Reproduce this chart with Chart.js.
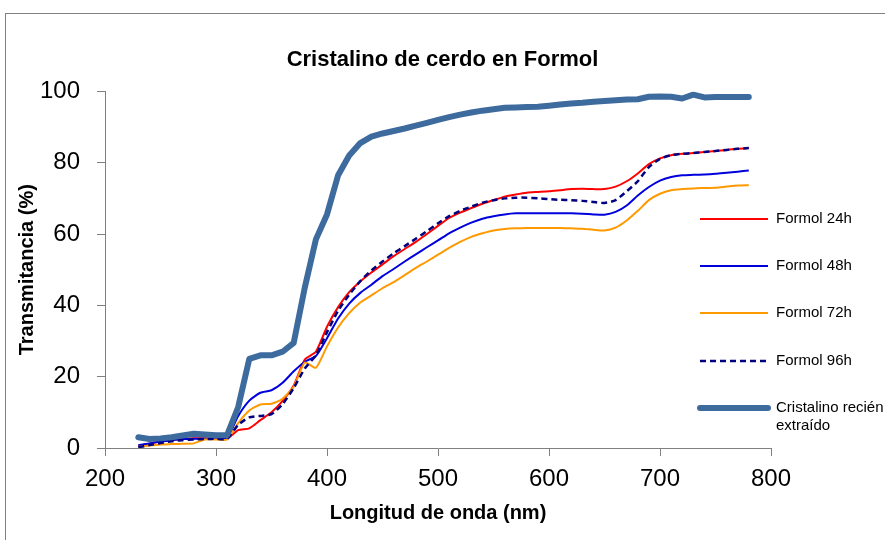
<!DOCTYPE html>
<html>
<head>
<meta charset="utf-8">
<script src="https://cdn.jsdelivr.net/npm/chart.js@4.4.1/dist/chart.umd.min.js"></script>
<style>
  html, body { margin: 0; padding: 0; background: #fff; }
  #wrap { position: relative; width: 885px; height: 540px; }
</style>
</head>
<body>
<div id="wrap"><canvas id="grafico"></canvas></div>
<script>
// longitudes de onda medidas (nm)
const longitudes = [230, 240, 250, 260, 270, 280, 290, 300, 310, 320, 330, 340, 350, 360, 370, 380, 390, 400,
  410, 420, 430, 440, 450, 460, 470, 480, 490, 500, 510, 520, 530, 540, 550, 560, 570, 580, 590, 600,
  610, 620, 630, 640, 650, 660, 670, 680, 690, 700, 710, 720, 730, 740, 750, 760, 770, 780];

const formol24 = [0.6, 1.2, 1.8, 2.2, 2.5, 2.7, 2.7, 2.6, 2.6, 5.0, 5.5, 7.8, 10.0, 13.2, 17.5, 24.8, 27.0, 34.0,
  39.5, 43.7, 46.7, 49.2, 51.5, 53.8, 55.8, 57.8, 60.0, 62.3, 64.5, 66.0, 67.3, 68.5, 69.5, 70.5, 71.1, 71.6, 71.8, 72.0,
  72.3, 72.6, 72.7, 72.6, 72.6, 73.3, 74.8, 77.0, 79.6, 81.2, 82.1, 82.5, 82.7, 83.0, 83.3, 83.6, 83.9, 84.1];

const formol48 = [0.8, 1.3, 1.8, 2.2, 2.5, 2.6, 2.6, 2.6, 2.8, 9.0, 13.3, 15.5, 16.2, 18.3, 21.5, 24.2, 25.8, 30.8,
  36.3, 40.5, 43.5, 45.8, 48.2, 50.2, 52.3, 54.3, 56.3, 58.2, 60.2, 61.8, 63.2, 64.3, 65.0, 65.5, 65.8, 65.8, 65.8, 65.8,
  65.8, 65.8, 65.7, 65.5, 65.4, 66.2, 68.0, 70.8, 73.2, 75.0, 76.0, 76.5, 76.6, 76.7, 76.9, 77.2, 77.5, 77.8];

const formol72 = [0.3, 0.7, 1.0, 1.1, 1.2, 1.3, 2.4, 2.4, 2.4, 7.0, 10.5, 12.2, 12.4, 13.8, 17.2, 24.0, 22.5, 28.5,
  33.8, 37.8, 40.8, 42.8, 44.8, 46.5, 48.5, 50.5, 52.3, 54.2, 56.1, 57.8, 59.2, 60.2, 61.0, 61.4, 61.6, 61.7, 61.7, 61.7,
  61.7, 61.6, 61.5, 61.2, 61.0, 61.8, 63.8, 66.5, 69.5, 71.3, 72.3, 72.6, 72.8, 72.9, 73.0, 73.3, 73.6, 73.7];

const formol96 = [0.2, 0.8, 1.4, 1.9, 2.2, 2.4, 2.5, 2.6, 2.6, 6.5, 8.6, 9.0, 9.5, 12.3, 16.8, 22.3, 26.0, 32.5,
  38.5, 43.0, 46.8, 49.8, 52.3, 54.6, 56.6, 58.7, 60.8, 63.0, 65.0, 66.5, 67.7, 68.8, 69.5, 70.0, 70.2, 70.2, 70.0, 69.8,
  69.6, 69.5, 69.3, 69.0, 68.7, 69.5, 72.0, 74.8, 78.8, 81.1, 82.1, 82.5, 82.7, 83.0, 83.3, 83.6, 83.9, 84.1];

const recienExtraido = [3.0, 2.5, 2.7, 3.0, 3.5, 4.0, 3.8, 3.6, 3.6, 11.5, 25.0, 26.0, 26.0, 27.0, 29.5, 45.0, 58.5, 65.5,
  76.5, 82.0, 85.5, 87.3, 88.2, 88.9, 89.6, 90.4, 91.2, 92.0, 92.8, 93.5, 94.1, 94.6, 95.0, 95.4, 95.5, 95.6, 95.7, 96.0,
  96.3, 96.6, 96.8, 97.1, 97.3, 97.5, 97.7, 97.8, 98.5, 98.6, 98.5, 98.0, 99.1, 98.3, 98.4, 98.4, 98.4, 98.4];

const ticksX = [200, 300, 400, 500, 600, 700, 800];
const ticksY = [0, 20, 40, 60, 80, 100];

Chart.defaults.font.family = "'Liberation Sans', Arial, sans-serif";
Chart.defaults.color = '#000';

function puntos(valores) {
  return longitudes.map((x, i) => ({ x: x, y: valores[i] }));
}

// leyenda a la derecha, dibujada sobre el área del gráfico
const leyenda = {
  id: 'leyenda',
  afterDraw(chart) {
    const ctx = chart.ctx;
    const filas = [
      { ds: 0, y: 219, texto: ['Formol 24h'] },
      { ds: 1, y: 266, texto: ['Formol 48h'] },
      { ds: 2, y: 313, texto: ['Formol 72h'] },
      { ds: 3, y: 361, texto: ['Formol 96h'] },
      { ds: 4, y: 408, texto: ['Cristalino recién', 'extraído'] }
    ];
    ctx.save();
    ctx.font = "15px 'Liberation Sans', Arial, sans-serif";
    ctx.textBaseline = 'middle';
    ctx.fillStyle = '#000';
    filas.forEach(f => {
      const d = chart.data.datasets[f.ds];
      ctx.beginPath();
      ctx.strokeStyle = d.borderColor;
      ctx.lineWidth = d.borderWidth;
      ctx.lineCap = d.borderWidth > 4 ? 'round' : 'butt';
      ctx.setLineDash(d.borderDash || []);
      ctx.moveTo(700, f.y);
      ctx.lineTo(768, f.y);
      ctx.stroke();
      ctx.setLineDash([]);
      f.texto.forEach((t, j) => ctx.fillText(t, 776, f.y + j * 18));
    });
    ctx.restore();
  }
};

// marco exterior
const marco = {
  id: 'marco',
  beforeDraw(chart) {
    const ctx = chart.ctx;
    ctx.save();
    ctx.strokeStyle = '#808080';
    ctx.lineWidth = 1;
    ctx.strokeRect(5.5, 13.5, 1000, 1000);
    ctx.restore();
  }
};

new Chart(document.getElementById('grafico'), {
  type: 'line',
  data: {
    datasets: [
      { label: 'Formol 24h', data: puntos(formol24), borderColor: '#ff0000', borderWidth: 2, tension: 0.2, order: 5 },
      { label: 'Formol 48h', data: puntos(formol48), borderColor: '#0000dd', borderWidth: 2, tension: 0.2, order: 4 },
      { label: 'Formol 72h', data: puntos(formol72), borderColor: '#ff9900', borderWidth: 2, tension: 0.2, order: 3 },
      { label: 'Formol 96h', data: puntos(formol96), borderColor: '#000080', borderWidth: 2.5, borderDash: [6, 4], tension: 0.2, order: 2 },
      { label: 'Cristalino recién extraído', data: puntos(recienExtraido), borderColor: '#3e6b9e', borderWidth: 6, tension: 0, order: 1, borderCapStyle: 'round', borderJoinStyle: 'round' }
    ]
  },
  options: {
    responsive: true,
    maintainAspectRatio: false,
    animation: false,
    elements: { point: { radius: 0 } },
    layout: { padding: 0 },
    plugins: {
      legend: { display: false },
      tooltip: { enabled: false },
      title: {
        display: true,
        text: 'Cristalino de cerdo en Formol',
        font: { size: 22, weight: 'bold' },
        padding: { top: 47, bottom: 18 },
        color: '#000'
      }
    },
    scales: {
      x: {
        type: 'linear',
        min: 200,
        max: 800,
        afterFit(scale) { scale.height = 92; },
        afterBuildTicks(scale) { scale.ticks = ticksX.map(v => ({ value: v })); },
        ticks: { font: { size: 24 }, padding: 9, maxRotation: 0 },
        grid: { drawOnChartArea: false, drawTicks: true, tickLength: 8, color: '#808080' },
        border: { display: true, color: '#808080' },
        title: {
          display: true,
          text: 'Longitud de onda (nm)',
          font: { size: 20, weight: 'bold' },
          padding: { top: 0, bottom: 15 }
        }
      },
      y: {
        min: 0,
        max: 100,
        afterFit(scale) { scale.width = 105; },
        afterBuildTicks(scale) { scale.ticks = ticksY.map(v => ({ value: v })); },
        ticks: { font: { size: 24 }, padding: 17 },
        grid: { drawOnChartArea: false, drawTicks: true, tickLength: 8, color: '#808080' },
        border: { display: true, color: '#808080' },
        title: {
          display: true,
          text: 'Transmitancia (%)',
          font: { size: 20, weight: 'bold' },
          padding: { top: 15, bottom: 0 }
        }
      },
      // espacio reservado a la derecha para la leyenda
      margen: {
        position: 'right',
        min: 0,
        max: 100,
        afterFit(scale) { scale.width = 114; },
        ticks: { display: false },
        grid: { display: false },
        border: { display: false }
      }
    }
  },
  plugins: [marco, leyenda]
});
</script>
</body>
</html>
